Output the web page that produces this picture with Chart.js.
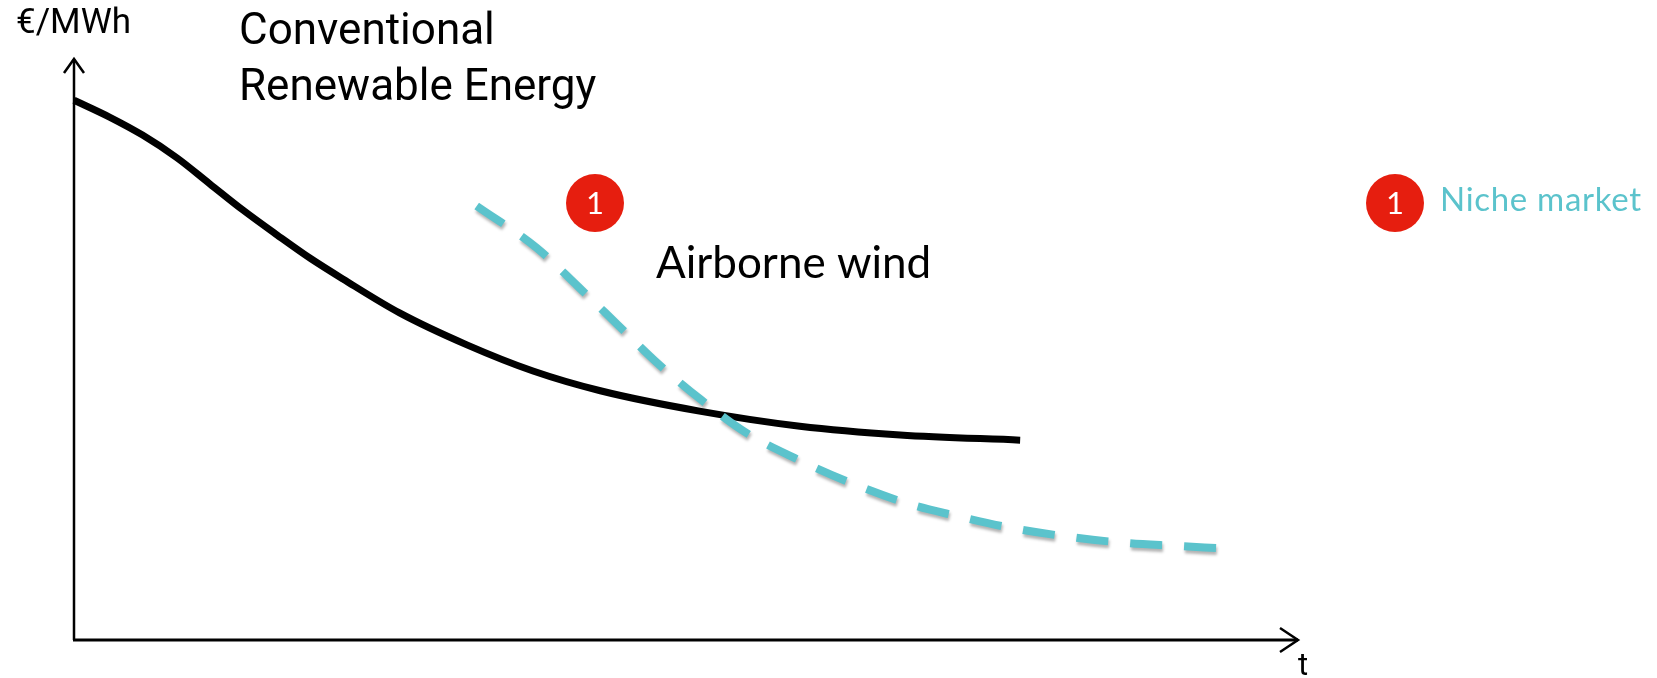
<!DOCTYPE html>
<html>
<head>
<meta charset="utf-8">
<script src="https://cdn.jsdelivr.net/npm/chart.js@4.4.1/dist/chart.umd.min.js"></script>
<style>
  html, body { margin: 0; padding: 0; background: #ffffff; }
  #wrap { width: 1657px; height: 678px; position: relative; }
</style>
</head>
<body>
<div id="wrap"><canvas id="costChart"></canvas></div>
<script>
// --- DATA (time and cost in arbitrary units, 0-100 on both axes) ---
const conventionalT = [0, 2.9, 5.6, 8.4, 11.1, 13.8, 16.6, 19.3, 22.0, 26.6, 32.1, 37.5, 43.0, 51.1, 59.3, 67.5, 77.3];
const conventionalCost = [92.9, 90.0, 86.9, 83.0, 78.5, 74.0, 69.7, 65.7, 62.1, 56.3, 50.8, 46.3, 42.9, 39.4, 36.8, 35.3, 34.4];

const airborneT = [32.9, 37.8, 41.2, 44.4, 47.7, 51.2, 54.9, 58.9, 63.4, 68.1, 71.8, 76.3, 80.8, 85.4, 90.0, 93.5];
const airborneCost = [74.7, 67.5, 60.8, 54.3, 47.6, 41.4, 35.7, 31.3, 27.1, 23.5, 21.5, 19.4, 17.9, 16.8, 16.2, 15.8];

const seriesNames = ['Conventional', 'Renewable Energy', 'Airborne wind'];
const axisLabels = { y: '€/MWh', x: 't' };
const badgeLabel = '1';
const legendText = 'Niche market';

const TEAL = '#5bc3cc';
const BADGE_RED = '#e61e0f';

function toPoints(xs, ys) {
    return xs.map((x, i) => ({ x: x, y: ys[i] }));
}

// --- PLUGIN: axes with arrow heads, labels, badges ---
const sketchPlugin = {
    id: 'sketch',
    beforeDatasetDraw(chart, args) {
        // soft drop shadow under the dashed airborne line
        if (args.index === 0) {
            const ctx = chart.ctx;
            ctx.save();
            ctx.shadowColor = 'rgba(0,0,0,0.30)';
            ctx.shadowBlur = 3;
            ctx.shadowOffsetX = 1;
            ctx.shadowOffsetY = 3;
        }
    },
    afterDatasetDraw(chart, args) {
        if (args.index === 0) chart.ctx.restore();
    },
    beforeDatasetsDraw(chart) {
        const { ctx, chartArea: a } = chart;
        ctx.save();
        ctx.strokeStyle = '#000000';
        ctx.lineWidth = 2.5;
        ctx.lineCap = 'butt';
        ctx.lineJoin = 'miter';
        // y axis
        ctx.beginPath();
        ctx.moveTo(a.left, a.bottom);
        ctx.lineTo(a.left, a.top);
        ctx.stroke();
        ctx.beginPath();
        ctx.moveTo(a.left - 10, a.top + 14);
        ctx.lineTo(a.left, a.top);
        ctx.lineTo(a.left + 10, a.top + 14);
        ctx.stroke();
        // x axis
        ctx.lineWidth = 3;
        ctx.beginPath();
        ctx.moveTo(a.left - 1, a.bottom);
        ctx.lineTo(a.right, a.bottom);
        ctx.stroke();
        ctx.lineWidth = 2.5;
        ctx.beginPath();
        ctx.moveTo(a.right - 18, a.bottom - 12);
        ctx.lineTo(a.right, a.bottom);
        ctx.lineTo(a.right - 18, a.bottom + 12);
        ctx.stroke();
        ctx.restore();
    },
    afterDraw(chart) {
        const { ctx, chartArea: a } = chart;
        ctx.save();
        ctx.textBaseline = 'alphabetic';
        ctx.fillStyle = '#000000';

        // axis labels
        ctx.font = '35px Roboto';
        ctx.textAlign = 'left';
        ctx.fillText(axisLabels.y, 16, 33);
        ctx.font = '31px Roboto';
        ctx.textAlign = 'center';
        ctx.fillText(axisLabels.x, a.right + 5, 675);

        // title of the black curve
        ctx.font = '44px Roboto';
        ctx.textAlign = 'left';
        ctx.fillText(seriesNames[0], 239, 44);
        ctx.fillText(seriesNames[1], 239, 100);

        // airborne wind label
        ctx.font = '44px Lato';
        ctx.fillText(seriesNames[2], 656, 278);

        // badges
        const drawBadge = (cx, cy) => {
            ctx.beginPath();
            ctx.arc(cx, cy, 29, 0, Math.PI * 2);
            ctx.fillStyle = BADGE_RED;
            ctx.fill();
            ctx.fillStyle = '#ffffff';
            ctx.font = '31px Lato';
            ctx.textAlign = 'center';
            ctx.textBaseline = 'middle';
            ctx.fillText(badgeLabel, cx, cy + 1);
            ctx.textBaseline = 'alphabetic';
        };
        drawBadge(595, 203);
        drawBadge(1395, 203);

        // legend text
        ctx.fillStyle = TEAL;
        ctx.font = '33px Lato';
        ctx.letterSpacing = '0.7px';
        ctx.textAlign = 'left';
        ctx.fillText(legendText, 1440, 211);
        ctx.restore();
    }
};

const ctx = document.getElementById('costChart').getContext('2d');
const costChart = new Chart(ctx, {
    type: 'line',
    data: {
        datasets: [
            {
                label: seriesNames[2],
                data: toPoints(airborneT, airborneCost),
                borderColor: TEAL,
                borderWidth: 8,
                borderDash: [32, 22],
                borderCapStyle: 'butt',
                pointRadius: 0,
                cubicInterpolationMode: 'monotone',
                fill: false,
                clip: false,
                order: 0
            },
            {
                label: seriesNames[0] + ' ' + seriesNames[1],
                data: toPoints(conventionalT, conventionalCost),
                borderColor: '#000000',
                borderWidth: 7,
                borderCapStyle: 'butt',
                pointRadius: 0,
                cubicInterpolationMode: 'monotone',
                fill: false,
                clip: false,
                order: 1
            }
        ]
    },
    options: {
        responsive: true,
        maintainAspectRatio: false,
        animation: false,
        layout: {
            padding: { left: 74, right: 359, top: 59, bottom: 38 }
        },
        plugins: {
            legend: { display: false },
            tooltip: { enabled: false }
        },
        scales: {
            x: { type: 'linear', min: 0, max: 100, display: false },
            y: { type: 'linear', min: 0, max: 100, display: false }
        }
    },
    plugins: [sketchPlugin]
});
</script>
</body>
</html>
